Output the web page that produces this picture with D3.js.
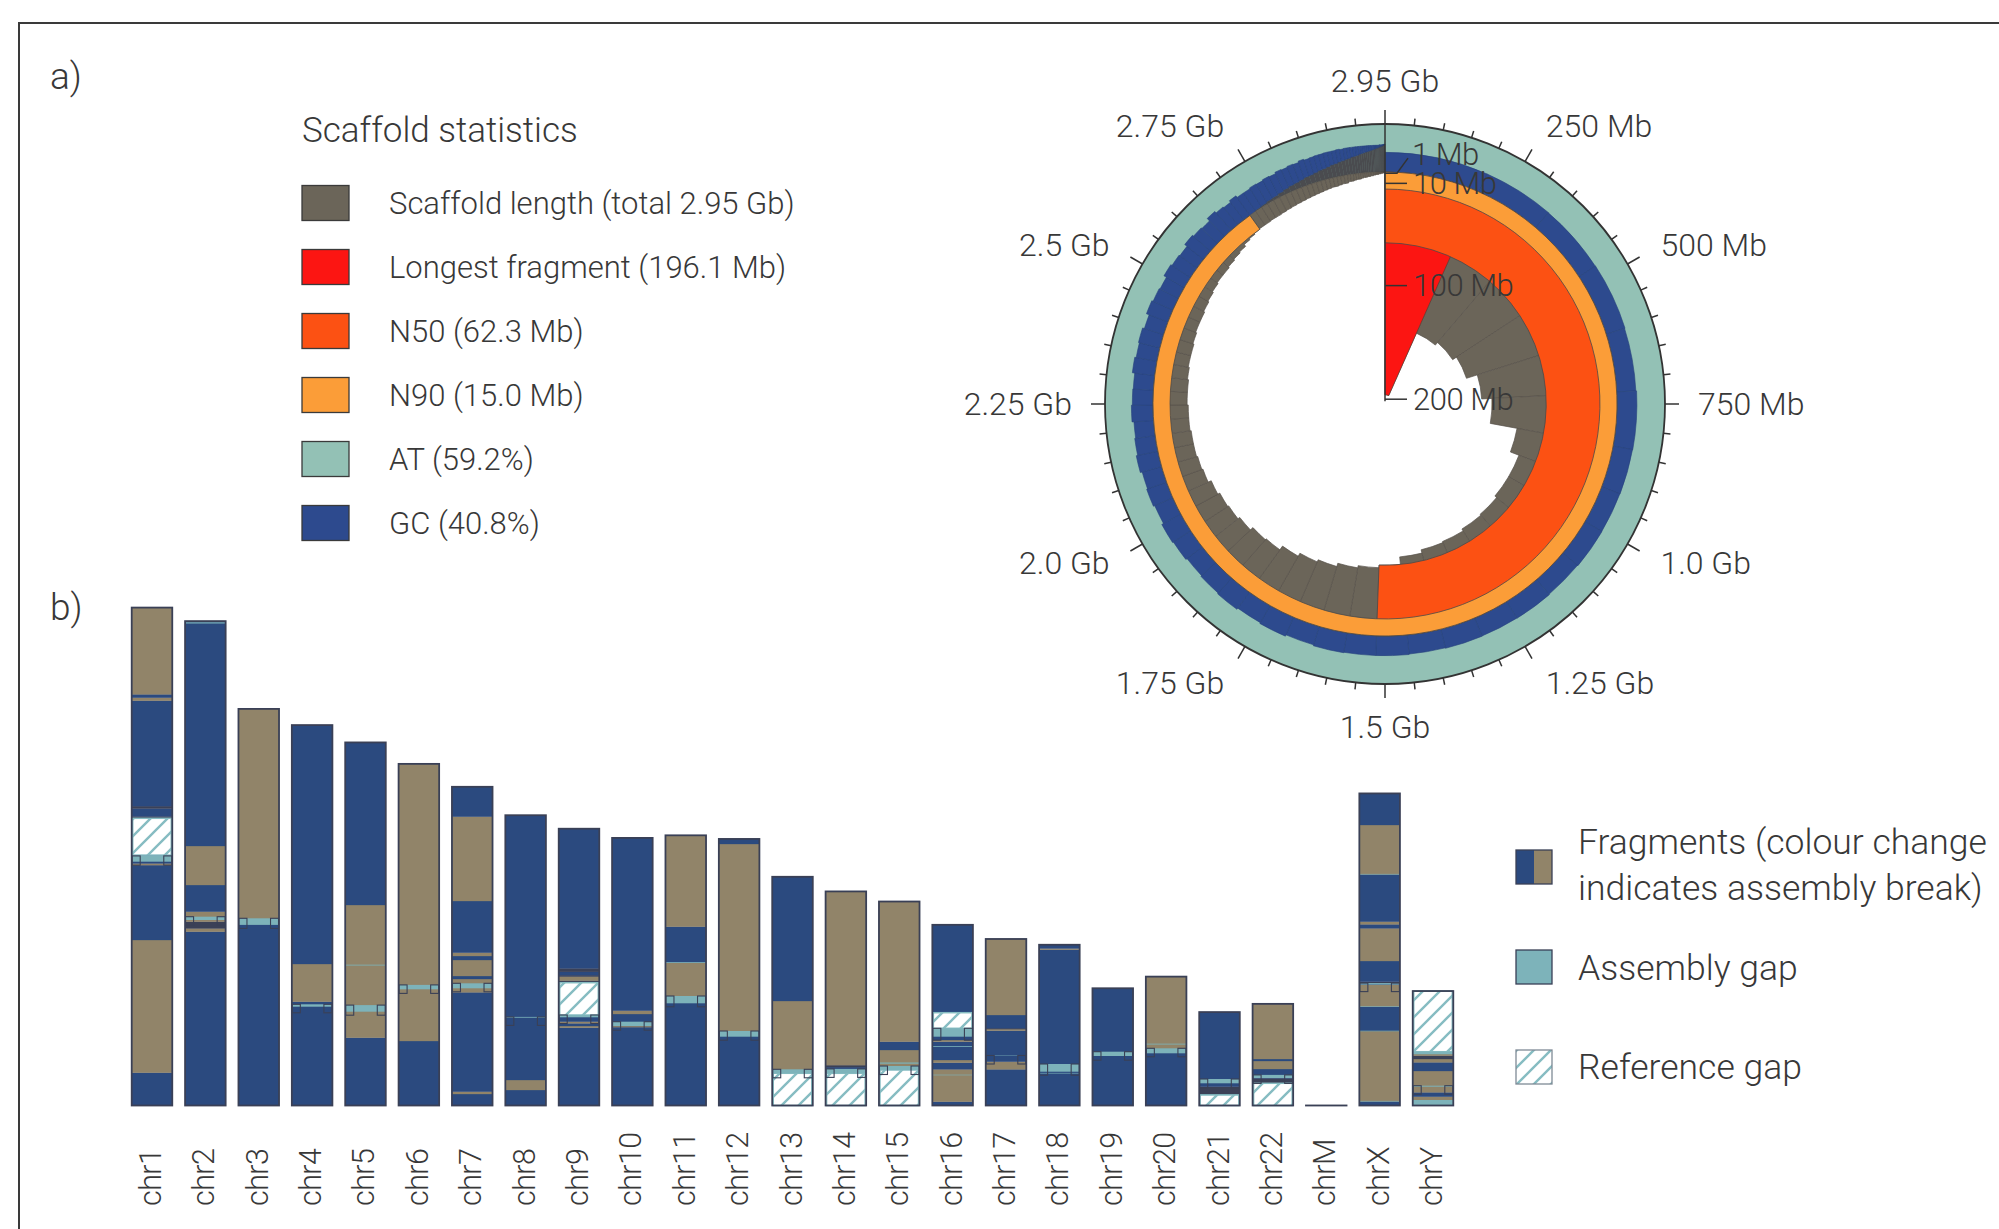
<!DOCTYPE html>
<html><head><meta charset="utf-8">
<script src="https://cdn.jsdelivr.net/npm/d3@7"></script>
<style>
body{margin:0;background:#fff;overflow:hidden;}
svg text{font-family:Roboto,"Open Sans",sans-serif;font-weight:300;fill:#383838;}
</style></head><body>
<svg id="chart" width="1999" height="1229"></svg>
<script>
// ---------------- data: panel a (snail plot) ----------------
const legendLabels = ["Scaffold length (total 2.95 Gb)","Longest fragment (196.1 Mb)","N50 (62.3 Mb)","N90 (15.0 Mb)","AT (59.2%)","GC (40.8%)"];
const longestFragment = 196.1;
const n50Length = 62.3;
const n90Length = 15.0;
// scaffold lengths (Mb), sorted, read from the spiral
const scaffoldLengths = [196.1,136,133,129,119,110,86,78,78,76,75,73,72,69,62.3,
 60,58,55,53,50,46,45,42,40,39,37,34,33,32,32,31,31,30,30,29,28,28,27,26,26,25,24,23,22,22,21,20,19,17,16,15,
 14.5,14.5,14,14,13.5,13,12.5,12,11.5,11,10.5,10,9.5,9,8.5,8,8,7.5,7,7,6,6,5.5,5,5,4.5,4,4,3.5,3.5,3,3,2.5,2.5,2,2,2,1.5,1.5,1.5,1,1,1,1,0.8,0.8,0.6,0.6,0.5,0.5];
const scaffoldGC = [0.41,0.41,0.405,0.41,0.40,0.415,0.41,0.405,0.41,0.40,0.41,0.405,0.41,0.40,0.41,
 0.41,0.42,0.40,0.43,0.41,0.44,0.42,0.40,0.43,0.45,0.41,0.44,0.42,0.46,0.43,0.41,0.45,0.43,0.42,0.47,0.44,0.46,0.42,0.48,0.45,0.43,0.49,0.46,0.44,0.50,0.47,0.45,0.52,0.48,0.46,0.50,
 0.46,0.44,0.45,0.42,0.43,0.40,0.41,0.38,0.39,0.36,0.37,0.34,0.33,0.32,0.31,0.30,0.28,0.27,0.26,0.24,0.23,0.22,0.20,0.19,0.18,0.16,0.15,0.14,0.13,0.12,0.11,0.10,0.09,0.08,0.07,0.06,0.06,0.05,0.05,0.04,0.04,0.03,0.03,0.03,0.02,0.02,0.02,0.01,0.01,0.01];
// N fraction of the last (smallest) scaffolds
const scaffoldNTail = [0,0.02,0.03,0.05,0.06,0.08,0.10,0.12,0.13,0.15,0.17,0.18,0.20,0.22,0.23,0.25,0.27,0.28,0.30,0.31,
 0.33,0.34,0.36,0.37,0.38,0.40,0.41,0.42,0.43,0.44,0.45,0.46,0.47,0.48,0.49,0.50,0.50,0.51,0.52,0.52,0.53,0.53,0.54,0.54,0.55,0.55,0.56,0.56,0.57,0.57];
const circTickLabels = ["2.95 Gb","250 Mb","500 Mb","750 Mb","1.0 Gb","1.25 Gb","1.5 Gb","1.75 Gb","2.0 Gb","2.25 Gb","2.5 Gb","2.75 Gb"];
const radialTickValues = [1,10,100,200];
const radialTickLabels = ["1 Mb","10 Mb","100 Mb","200 Mb"];

// ---------------- data: panel b (chromosomes) ----------------
const chromosomes = ["chr1","chr2","chr3","chr4","chr5","chr6","chr7","chr8","chr9","chr10","chr11","chr12","chr13","chr14","chr15","chr16","chr17","chr18","chr19","chr20","chr21","chr22","chrM","chrX","chrY"];
const chromLengths = [248.96,242.19,198.30,190.21,181.54,170.81,159.35,145.14,138.39,133.80,135.09,133.28,114.36,107.04,101.99,90.34,83.26,80.37,58.62,64.44,46.71,50.82,0.0166,156.04,57.23];
// [chromosome, start Mb, end Mb, alternation group]
const fragmentRows = [
 ["chr1",0,16.4,0],["chr1",16.4,82.75,1],["chr1",82.75,120.2,0],["chr1",120.2,121,1],["chr1",121,125.2,0],["chr1",143.6,144.6,2],["chr1",144.6,148.5,0],["chr1",148.5,149.7,2],["chr1",149.7,202.4,0],["chr1",202.4,203.9,1],["chr1",203.9,205.6,0],["chr1",205.6,248.96,1],
 ["chr2",0,86.9,0],["chr2",86.9,88.5,1],["chr2",88.5,91.9,2],["chr2",91.9,96.9,1],["chr2",96.9,110.25,0],["chr2",110.25,129.75,1],["chr2",129.75,242.19,0],
 ["chr3",0,91.9,0],["chr3",91.9,198.3,1],
 ["chr4",0,51.9,0],["chr4",51.9,70.75,1],["chr4",70.75,190.21,0],
 ["chr5",0,33.9,0],["chr5",33.9,100.25,1],["chr5",100.25,181.54,0],
 ["chr6",0,32.25,0],["chr6",32.25,170.81,1],
 ["chr7",0,5.75,0],["chr7",5.75,6.9,1],["chr7",6.9,56.6,0],["chr7",56.6,63.25,1],["chr7",63.25,64.75,0],["chr7",64.75,72.75,1],["chr7",72.75,74.75,0],["chr7",74.75,76.4,1],["chr7",76.4,102.25,0],["chr7",102.25,144.4,1],["chr7",144.4,159.35,0],
 ["chr8",0,7.75,0],["chr8",7.75,12.75,1],["chr8",12.75,145.14,0],
 ["chr9",0,38.9,0],["chr9",38.9,39.75,1],["chr9",39.75,41.1,0],["chr9",41.1,41.9,1],["chr9",41.9,45.25,0],["chr9",61.4,62.5,2],["chr9",62.5,64.4,1],["chr9",64.4,65.2,2],["chr9",65.2,66.8,0],["chr9",66.8,68.6,2],["chr9",68.6,138.39,0],
 ["chr10",0,39.2,0],["chr10",39.2,39.75,1],["chr10",39.75,45.75,0],["chr10",45.75,47.4,1],["chr10",47.4,133.8,0],
 ["chr11",0,53,0],["chr11",53,71.4,1],["chr11",71.4,89.4,0],["chr11",89.4,135.09,1],
 ["chr12",0,35.8,0],["chr12",35.8,130.75,1],["chr12",130.75,133.28,0],
 ["chr13",16.1,52.25,1],["chr13",52.25,114.36,0],
 ["chr14",16.1,19.2,0],["chr14",19.2,20.2,2],["chr14",20.2,107.04,1],
 ["chr15",17.75,27.75,1],["chr15",27.75,31.9,0],["chr15",31.9,101.99,1],
 ["chr16",0,1.9,0],["chr16",1.9,18.1,1],["chr16",18.1,21.4,0],["chr16",21.4,22.75,1],["chr16",22.75,31.9,0],["chr16",31.9,32.75,1],["chr16",32.75,38.6,0],["chr16",46.4,90.34,0],
 ["chr17",0,18.1,0],["chr17",18.1,21.9,1],["chr17",21.9,37.4,0],["chr17",37.4,38.2,1],["chr17",38.2,38.7,2],["chr17",38.7,45.25,0],["chr17",45.25,83.26,1],
 ["chr18",0,77.9,0],["chr18",77.9,78.5,1],["chr18",78.5,80.37,0],
 ["chr19",0,58.62,0],
 ["chr20",0,28,0],["chr20",28,64.44,1],
 ["chr21",5.25,9.4,2],["chr21",9.4,46.71,0],
 ["chr22",11.1,13.6,2],["chr22",13.6,18.25,0],["chr22",18.25,22.25,1],["chr22",22.25,23.25,0],["chr22",23.25,50.82,1],
 ["chrM",0,0.0166,0],
 ["chrX",0,2.1,0],["chrX",2.1,37.25,1],["chrX",37.25,49.4,0],["chrX",49.4,60.4,1],["chrX",60.4,61.2,0],["chrX",61.2,61.9,2],["chrX",61.9,72.25,0],["chrX",72.25,88.6,1],["chrX",88.6,90.6,0],["chrX",90.6,91.9,1],["chrX",91.9,115.6,0],["chrX",115.6,140.25,1],["chrX",140.25,156.04,0],
 ["chrY",0,4.4,1],["chrY",4.4,6.6,0],["chrY",6.6,17.25,1],["chrY",17.25,21.6,0],["chrY",21.6,23.25,1],["chrY",23.25,24.9,2],["chrY",24.9,26.9,1]
];
// [chromosome, start, end, marked]
const assemblyGapRows = [
 ["chr1",121.9,124.8,1],["chr2",92.75,94.4,1],["chr2",241,241.6,0],["chr3",90.3,93.6,1],["chr4",49.4,50.6,1],
 ["chr5",46.9,50.2,1],["chr5",70,70.4,0],["chr6",58.1,60.3,1],["chr7",58.6,61.1,1],["chr8",43.9,44.3,1],
 ["chr9",44.1,45.25,1],["chr10",39.75,41.9,1],["chr11",51.1,54.75,1],["chr11",71.3,71.7,0],["chr12",34.4,37.25,1],
 ["chr13",16.1,18.1,1],["chr14",16.1,18.3,1],["chr15",17.75,19.75,1],["chr15",20.9,21.5,0],
 ["chr16",34.4,38.6,1],["chr16",15.1,15.4,0],["chr16",29.3,29.7,0],["chr17",24.8,25.0,1],
 ["chr18",16.9,20.75,1],["chr18",16.0,16.3,0],["chr19",24.75,26.9,1],["chr20",26.1,28.6,1],["chr20",30.5,30.9,0],
 ["chr21",11.1,13.25,1],["chr21",5.3,5.7,0],["chr22",13.75,15.3,1],
 ["chrX",2.0,2.3,0],["chrX",37.1,37.4,0],["chrX",49.3,49.6,0],["chrX",60.5,61.2,1],["chrX",115.5,115.8,0],
 ["chrY",0.25,2.75,0],["chrY",9.4,9.9,1],["chrY",25.6,26.9,0]
];
const referenceGapRows = [
 ["chr1",125.2,143.6],["chr9",45.25,61.4],["chr13",0,16.1],["chr14",0,16.1],["chr15",0,17.75],
 ["chr16",38.6,46.4],["chr21",0,5.25],["chr22",0,11.1],["chrY",26.9,57.23]
];
const barLegendLabels = [["Fragments (colour change","indicates assembly break)"],["Assembly gap"],["Reference gap"]];

// ---------------- drawing ----------------
const svg = d3.select("#chart");
const C = {blue:"#2b4a7f", tan:"#918469", dark:"#3b4157", teal:"#7db3ba", hatch:"#86bcc2", outline:"#3a4056",
  grey:"#6b6559", red:"#fc1512", n50:"#fc5113", n90:"#fb9d38", at:"#93c1b5", gc:"#2d4a8e", nfill:"#4a4b4f"};
const defs = svg.append("defs");
const pat = defs.append("pattern").attr("id","hatch").attr("patternUnits","userSpaceOnUse").attr("width",17).attr("height",17);
pat.append("rect").attr("width",17).attr("height",17).attr("fill","#fff");
pat.append("path").attr("d","M-4,4L4,-4M0,17L17,0M13,21L21,13").attr("stroke",C.hatch).attr("stroke-width",2.4);

// frame
svg.append("path").attr("d","M19,1229V23H1999").attr("fill","none").attr("stroke","#3a3a3a").attr("stroke-width",2);
svg.append("text").attr("x",50).attr("y",76).attr("dy","0.35em").attr("font-size",37).text("a)");
svg.append("text").attr("x",50).attr("y",607).attr("dy","0.35em").attr("font-size",37).text("b)");

// legend a
const legColors = [C.grey,C.red,C.n50,C.n90,C.at,C.gc];
svg.append("text").attr("x",302).attr("y",130).attr("dy","0.35em").attr("font-size",35).text("Scaffold statistics");
const la = svg.append("g").selectAll("g").data(legendLabels).join("g")
  .attr("transform",(d,i)=>`translate(302,${203+i*64})`);
la.append("rect").attr("x",0).attr("y",-17.5).attr("width",47).attr("height",35)
  .attr("fill",(d,i)=>legColors[i]).attr("stroke","#3a3a3a").attr("stroke-width",1.3);
la.append("text").attr("x",87).attr("y",0).attr("dy","0.35em").attr("font-size",31).text(d=>d);

// snail plot
const cx=1385, cy=404, coreR=232, ringW=48, outerR=280;
const g = svg.append("g").attr("transform",`translate(${cx},${cy})`);
const total = d3.sum(scaffoldLengths);
const ang = d3.scaleLinear().domain([0,total]).range([0,2*Math.PI]);
const rad = d3.scaleLinear().domain([0,200]).range([coreR,4.8]);
const arc = d3.arc();
let acc=0;
const cum = scaffoldLengths.map((L,i)=>{const o={i,L,s:acc,e:acc+L}; acc+=L; return o;});
const nStart = scaffoldLengths.length - scaffoldNTail.length;

g.append("path").attr("d",arc({innerRadius:coreR,outerRadius:outerR,startAngle:0,endAngle:2*Math.PI})).attr("fill",C.at);
cum.forEach(d=>{
  const n = d.i>=nStart ? scaffoldNTail[d.i-nStart] : 0;
  const gc = scaffoldGC[d.i];
  if(n>0) g.append("path").attr("d",arc({innerRadius:coreR,outerRadius:coreR+n*ringW,startAngle:ang(d.s),endAngle:ang(d.e)}))
     .attr("fill",C.nfill).attr("stroke",C.nfill).attr("stroke-width",0.4);
  g.append("path").attr("d",arc({innerRadius:coreR+n*ringW,outerRadius:coreR+(n+gc)*ringW,startAngle:ang(d.s),endAngle:ang(d.e)}))
     .attr("fill",C.gc).attr("stroke","#26417c").attr("stroke-width",0.6);
});
// scaffold length bars
g.append("g").selectAll("path").data(cum).join("path")
  .attr("d",d=>arc({innerRadius:rad(d.L),outerRadius:coreR,startAngle:ang(d.s),endAngle:ang(d.e)}))
  .attr("fill",C.grey).attr("stroke","#57524a").attr("stroke-width",0.7);
// longest
g.append("path").attr("d",arc({innerRadius:rad(longestFragment),outerRadius:coreR,startAngle:0,endAngle:ang(cum[0].e)}))
  .attr("fill",C.red).attr("stroke","#5a3a30").attr("stroke-width",0.6);
const i50 = cum.findIndex(d=>d.L===n50Length);
const i90 = cum.findIndex(d=>d.L===n90Length);
g.append("path").attr("d",arc({innerRadius:rad(n50Length),outerRadius:coreR,startAngle:0,endAngle:ang(cum[i50].e)}))
  .attr("fill",C.n50).attr("stroke","#4a4a4a").attr("stroke-width",0.8);
g.append("path").attr("d",arc({innerRadius:rad(n90Length),outerRadius:coreR,startAngle:0,endAngle:ang(cum[i90].e)}))
  .attr("fill",C.n90).attr("stroke","#4a4a4a").attr("stroke-width",0.8);
// outer circle + ticks
g.append("circle").attr("r",outerR).attr("fill","none").attr("stroke","#333").attr("stroke-width",1.8);
g.append("g").selectAll("line").data(d3.range(1,60)).join("line")
  .attr("x1",i=>outerR*Math.sin(i/60*2*Math.PI)).attr("y1",i=>-outerR*Math.cos(i/60*2*Math.PI))
  .attr("x2",i=>(i%5?287:294)*Math.sin(i/60*2*Math.PI)).attr("y2",i=>-(i%5?287:294)*Math.cos(i/60*2*Math.PI))
  .attr("stroke","#333").attr("stroke-width",1.5);
g.append("g").selectAll("text").data(circTickLabels).join("text")
  .attr("x",(d,i)=>{const a=i/12*2*Math.PI; return (313+10*Math.abs(Math.cos(a)))*Math.sin(a);})
  .attr("y",(d,i)=>{const a=i/12*2*Math.PI; return -(313+10*Math.abs(Math.cos(a)))*Math.cos(a);})
  .attr("dy","0.35em").attr("font-size",32)
  .attr("text-anchor",(d,i)=>{const s=Math.sin(i/12*2*Math.PI); return s>0.05?"start":(s<-0.05?"end":"middle");})
  .text(d=>d);
// radial axis
g.append("line").attr("x1",0).attr("x2",0).attr("y1",-rad(200)+2).attr("y2",-294).attr("stroke","#333").attr("stroke-width",1.5);
radialTickValues.forEach((v,k)=>{
  const y=-rad(v);
  if(v===1){
    g.append("path").attr("d",`M0,${y}H12L23,${y-15}`).attr("fill","none").attr("stroke","#333").attr("stroke-width",1.5);
    g.append("text").attr("x",27).attr("y",y-19).attr("dy","0.35em").attr("font-size",31).attr("letter-spacing",-0.5).text(radialTickLabels[k]);
  } else {
    g.append("line").attr("x1",0).attr("x2",22).attr("y1",y).attr("y2",y).attr("stroke","#333").attr("stroke-width",1.5);
    g.append("text").attr("x",28).attr("y",y).attr("dy","0.35em").attr("font-size",31).attr("letter-spacing",-0.5).text(radialTickLabels[k]);
  }
});

// bar chart
const x = d3.scaleBand().domain(chromosomes).range([125.3,1459.7]).paddingInner(0.24).paddingOuter(0.12);
const y = d3.scaleLinear().domain([0,250]).range([1105.5,605.5]);
const bw = x.bandwidth();
const fragColors = [C.blue,C.tan,C.dark];
const bars = svg.append("g");
bars.selectAll("rect.frag").data(fragmentRows).join("rect").attr("class","frag")
  .attr("x",d=>x(d[0])).attr("width",bw).attr("y",d=>y(d[2])).attr("height",d=>y(d[1])-y(d[2]))
  .attr("fill",d=>fragColors[d[3]]).attr("stroke",d=>fragColors[d[3]]).attr("stroke-width",0.3);
bars.selectAll("rect.ref").data(referenceGapRows).join("rect").attr("class","ref")
  .attr("x",d=>x(d[0])+1).attr("width",bw-2).attr("y",d=>y(d[2])).attr("height",d=>y(d[1])-y(d[2]))
  .attr("fill","url(#hatch)").attr("stroke",C.hatch).attr("stroke-width",1.5);
bars.selectAll("rect.asm").data(assemblyGapRows).join("rect").attr("class","asm")
  .attr("x",d=>x(d[0])).attr("width",bw).attr("y",d=>y(d[2])).attr("height",d=>y(d[1])-y(d[2]))
  .attr("fill",C.teal);
const marked = assemblyGapRows.filter(d=>d[3]===1);
[0,1].forEach(side=>{
  bars.selectAll("rect.brk"+side).data(marked).join("rect").attr("class","brk"+side)
    .attr("x",d=>side? x(d[0])+bw-8.5 : x(d[0])+0.5).attr("width",8)
    .attr("y",d=>y(d[2])).attr("height",d=>Math.max(y(d[1])-y(d[2]),5)+3.5)
    .attr("fill","none").attr("stroke",C.outline).attr("stroke-width",1.1);
});
bars.selectAll("rect.outline").data(chromosomes).join("rect").attr("class","outline")
  .attr("x",d=>x(d)).attr("width",bw).attr("y",(d,i)=>y(chromLengths[i])).attr("height",(d,i)=>y(0)-y(chromLengths[i]))
  .attr("fill","none").attr("stroke",C.outline).attr("stroke-width",1.8);
svg.append("g").selectAll("text").data(chromosomes).join("text")
  .attr("transform",d=>`translate(${x(d)+bw/2+9},1206) rotate(-90)`)
  .attr("font-size",30.5).attr("letter-spacing",-0.6).text(d=>d);

// legend b
const lb = svg.append("g");
lb.append("rect").attr("x",1516).attr("y",850).attr("width",18).attr("height",34).attr("fill",C.blue);
lb.append("rect").attr("x",1534).attr("y",850).attr("width",18).attr("height",34).attr("fill",C.tan);
lb.append("rect").attr("x",1516).attr("y",850).attr("width",36).attr("height",34).attr("fill","none").attr("stroke",C.outline).attr("stroke-width",1.3);
lb.append("rect").attr("x",1516).attr("y",950).attr("width",36).attr("height",34).attr("fill",C.teal).attr("stroke",C.outline).attr("stroke-width",1.3);
lb.append("rect").attr("x",1516).attr("y",1050).attr("width",36).attr("height",34).attr("fill","url(#hatch)").attr("stroke","#7f8a96").attr("stroke-width",1.3);
const lbBase = [[854,900],[980],[1079]];
barLegendLabels.forEach((lines,k)=>lines.forEach((t,j)=>{
  lb.append("text").attr("x",1578).attr("y",lbBase[k][j]).attr("font-size",35.5).text(t);
}));
</script></body></html>
